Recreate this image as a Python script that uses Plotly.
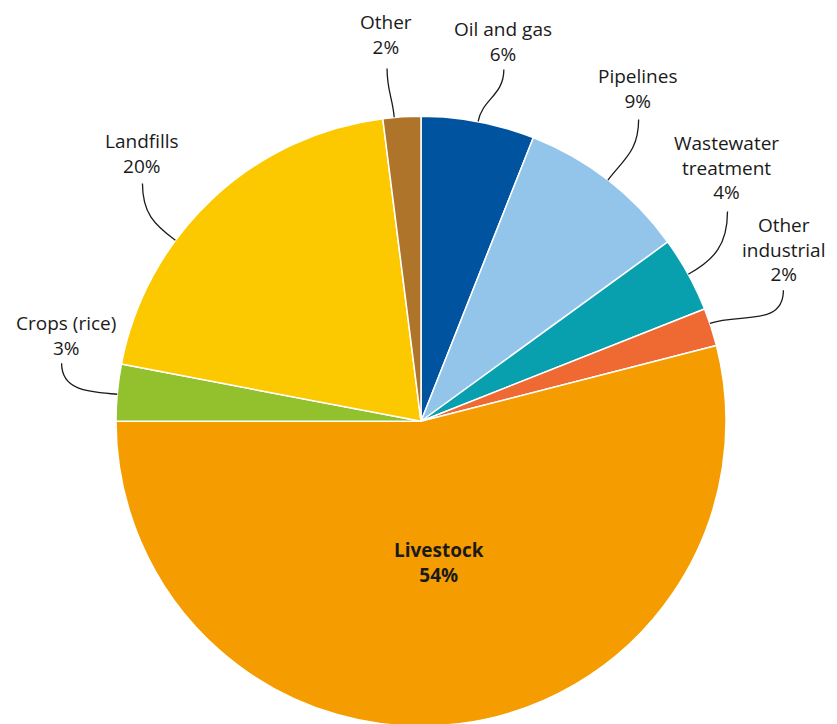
import math
import plotly.graph_objects as go

# ---- data ----
categories = ["Oil and gas", "Pipelines", "Wastewater<br>treatment", "Other<br>industrial",
              "Livestock", "Crops (rice)", "Landfills", "Other"]
values = [6, 9, 4, 2, 54, 3, 20, 2]
colors = ["#00539F", "#93C5EB", "#089FAF", "#EE6A32",
          "#F59D00", "#93C02D", "#FCC900", "#AE7429"]

# ---- layout helpers (pixel geometry, page coordinates) ----
W, H = 837, 724
BODY = 8            # default html body margin
SIDE = 611
CX_PAGE, CY_PAGE = 421, 421
R = SIDE / 2
ML = CX_PAGE - BODY - R
MT = CY_PAGE - BODY - R
MR = W - ML - SIDE
MB = 0
SIDE_Y = H - MT - MB
# vertical domain so that the pie diameter is SIDE
CX, CY = CX_PAGE, CY_PAGE


def px2paper(px, py):
    return (px - BODY - ML) / SIDE, 1 - (py - BODY - MT) / SIDE_Y


# label block centres (pixels), leader start points, fraction within slice for leader end
label_pos = {
    "Oil and gas": (503, 41), "Pipelines": (638, 88), "Wastewater<br>treatment": (727, 167),
    "Other<br>industrial": (784, 249), "Crops (rice)": (65, 335), "Landfills": (142, 153),
    "Other": (386, 34),
}
leader_start = {
    "Oil and gas": (504, 69), "Pipelines": (639, 119), "Wastewater<br>treatment": (728, 211),
    "Other<br>industrial": (784, 290), "Crops (rice)": (61, 363), "Landfills": (142, 183),
    "Other": (387, 68),
}
leader_frac = {
    "Oil and gas": 0.5, "Pipelines": 0.5, "Wastewater<br>treatment": 0.5,
    "Other<br>industrial": 0.4, "Crops (rice)": 0.47, "Landfills": 0.355, "Other": 0.3,
}

FONT = "Open Sans, Noto Sans, sans-serif"
TXT = "#1a1a1a"

# pie domain: full width, top part of the plot area of height SIDE
dom_y0 = 1 - SIDE / SIDE_Y
fig = go.Figure(go.Pie(
    labels=categories, values=values, sort=False, direction="clockwise", rotation=0,
    marker=dict(colors=colors, line=dict(color="white", width=1.5)),
    textinfo="none", hoverinfo="label+percent", showlegend=False,
    domain=dict(x=[0, 1], y=[max(dom_y0, 0), 1]),
))

total = sum(values)
cum = 0
annotations, shapes = [], []
for cat, v in zip(categories, values):
    start_frac = cum / total
    cum += v
    pct = f"{round(100 * v / total)}%"
    if cat == "Livestock":
        ang = 2 * math.pi * (start_frac + v / total / 2)
        px, py = CX + 0.465 * R * math.sin(ang), CY - 0.465 * R * math.cos(ang)
        x, y = px2paper(px, py)
        annotations.append(dict(x=x, y=y, xref="paper", yref="paper", showarrow=False,
                                xanchor="center", yanchor="middle",
                                text=f"<b>{cat}<br>{pct}</b>", align="center",
                                font=dict(family=FONT, size=19, color=TXT)))
        continue
    lx, ly = label_pos[cat]
    x, y = px2paper(lx, ly)
    annotations.append(dict(x=x, y=y, xref="paper", yref="paper", showarrow=False,
                            xanchor="center", yanchor="middle", align="center",
                            text=f"{cat}<br>{pct}",
                            font=dict(family=FONT, size=19, color=TXT)))
    # leader line: curve from label to rim
    ang = 2 * math.pi * (start_frac + leader_frac[cat] * v / total)
    ex, ey = CX + R * math.sin(ang), CY - R * math.cos(ang)
    sx, sy = leader_start[cat]
    dist = math.hypot(ex - sx, ey - sy)
    c1 = (sx, sy + 0.45 * dist)
    c2 = (ex + 0.4 * dist * math.sin(ang), ey - 0.4 * dist * math.cos(ang))
    pts = [px2paper(*p) for p in [(sx, sy), c1, c2, (ex, ey)]]
    path = "M {:.5f},{:.5f} C {:.5f},{:.5f} {:.5f},{:.5f} {:.5f},{:.5f}".format(
        *[c for p in pts for c in p])
    shapes.append(dict(type="path", xref="paper", yref="paper", path=path,
                       line=dict(color=TXT, width=1.3)))

fig.update_layout(
    width=W, height=H, margin=dict(l=ML, r=MR, t=MT, b=MB, pad=0),
    paper_bgcolor="white", plot_bgcolor="white",
    annotations=annotations, shapes=shapes,
    font=dict(family=FONT, color=TXT),
)
fig.write_html("out.html")
